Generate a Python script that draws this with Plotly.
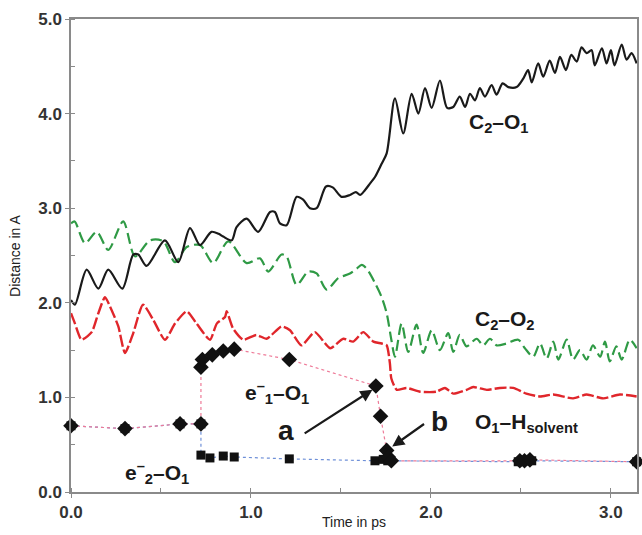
import plotly.graph_objects as go

# ---- data ----
c2o1_t = [0.0, 0.022, 0.087, 0.152, 0.207, 0.285, 0.346, 0.374, 0.42, 0.522, 0.596, 0.661, 0.717,
          0.78, 0.82, 0.846, 0.893, 0.92, 0.976, 1.04, 1.106, 1.133, 1.161, 1.198, 1.254, 1.29,
          1.328, 1.365, 1.417, 1.454, 1.504, 1.55, 1.583, 1.606, 1.633, 1.661, 1.689, 1.726,
          1.754, 1.80, 1.846, 1.893, 1.93, 1.967, 2.004, 2.05, 2.09, 2.124, 2.16, 2.19, 2.217,
          2.245, 2.272, 2.30, 2.337, 2.365, 2.398, 2.43, 2.476, 2.513, 2.54, 2.56, 2.596, 2.624,
          2.66, 2.689, 2.717, 2.75, 2.78, 2.81, 2.837, 2.865, 2.893, 2.91, 2.95, 2.976, 3.0,
          3.02, 3.06, 3.087, 3.115, 3.143]
c2o1_d = [2.03, 1.98, 2.35, 2.15, 2.35, 2.15, 2.51, 2.51, 2.39, 2.66, 2.43, 2.79, 2.61,
          2.75, 2.73, 2.70, 2.66, 2.80, 2.89, 2.75, 2.96, 2.96, 2.84, 2.82, 3.12, 3.09,
          3.00, 3.00, 3.23, 3.22, 3.12, 3.14, 3.17, 3.14, 3.19, 3.26, 3.33, 3.47,
          3.58, 4.16, 3.79, 4.21, 4.00, 4.27, 4.06, 4.35, 4.06, 4.07, 4.18, 4.07, 4.21,
          4.14, 4.27, 4.18, 4.30, 4.20, 4.32, 4.28, 4.28, 4.37, 4.46, 4.33, 4.53, 4.39,
          4.56, 4.43, 4.60, 4.46, 4.62, 4.55, 4.70, 4.64, 4.67, 4.51, 4.69, 4.53, 4.67,
          4.51, 4.73, 4.57, 4.64, 4.53]

c2o2_t = [0.0, 0.02, 0.078, 0.143, 0.207, 0.29, 0.356, 0.439, 0.513, 0.578, 0.643, 0.717, 0.79,
          0.874, 0.976, 1.05, 1.096, 1.17, 1.198, 1.254, 1.318, 1.365, 1.42, 1.485, 1.55, 1.587,
          1.615, 1.643, 1.689, 1.726, 1.754, 1.78, 1.80, 1.837, 1.874, 1.92, 1.957, 2.004, 2.05,
          2.096, 2.124, 2.16, 2.198, 2.254, 2.29, 2.328, 2.365, 2.42, 2.485, 2.522, 2.568, 2.606,
          2.643, 2.68, 2.708, 2.754, 2.79, 2.828, 2.865, 2.90, 2.94, 2.967, 2.994, 3.03, 3.06,
          3.105, 3.143]
c2o2_d = [2.84, 2.86, 2.63, 2.75, 2.56, 2.86, 2.49, 2.66, 2.65, 2.43, 2.59, 2.61, 2.42,
          2.65, 2.42, 2.47, 2.33, 2.51, 2.49, 2.19, 2.33, 2.31, 2.14, 2.26, 2.31, 2.36,
          2.40, 2.36, 2.21, 2.06, 1.89, 1.61, 1.43, 1.78, 1.48, 1.77, 1.47, 1.71, 1.50,
          1.68, 1.48, 1.66, 1.54, 1.62, 1.55, 1.62, 1.55, 1.57, 1.61, 1.52, 1.43, 1.57,
          1.41, 1.59, 1.40, 1.61, 1.40, 1.50, 1.40, 1.55, 1.43, 1.59, 1.38, 1.54, 1.40,
          1.61, 1.52]

o1h_t = [0.0, 0.022, 0.059, 0.115, 0.152, 0.189, 0.217, 0.263, 0.30, 0.346, 0.40, 0.457, 0.522,
         0.578, 0.643, 0.698, 0.772, 0.81, 0.856, 0.865, 0.90, 0.957, 1.03, 1.087, 1.17, 1.217,
         1.28, 1.355, 1.44, 1.513, 1.568, 1.624, 1.68, 1.726, 1.754, 1.772, 1.78, 1.81, 1.865,
         1.94, 2.03, 2.078, 2.124, 2.198, 2.235, 2.31, 2.383, 2.457, 2.53, 2.606, 2.68, 2.79,
         2.865, 2.957, 3.05, 3.143]
o1h_d = [1.89, 1.78, 1.61, 1.69, 1.89, 2.06, 1.96, 1.75, 1.47, 1.68, 1.98, 1.82, 1.61,
         1.78, 1.91, 1.78, 1.61, 1.78, 1.85, 1.91, 1.73, 1.61, 1.66, 1.62, 1.75, 1.71,
         1.55, 1.69, 1.52, 1.62, 1.59, 1.69, 1.59, 1.57, 1.55, 1.36, 1.20, 1.08, 1.10,
         1.06, 1.06, 1.10, 1.04, 1.08, 1.11, 1.08, 1.10, 1.10, 1.04, 1.01, 1.03, 0.99,
         1.03, 0.99, 1.03, 1.01]

e1_t = [0.0, 0.30, 0.606, 0.722, 0.722, 0.73, 0.785, 0.846, 0.907, 1.213, 1.694, 1.72, 1.754,
        1.763, 1.78, 2.494, 2.52, 2.55, 3.143]
e1_d = [0.70, 0.67, 0.72, 0.72, 1.32, 1.40, 1.45, 1.49, 1.51, 1.40, 1.12, 0.80, 0.44,
        0.37, 0.33, 0.33, 0.33, 0.34, 0.32]

e2_t = [0.0, 0.30, 0.606, 0.722, 0.722, 0.772, 0.846, 0.907, 1.213, 1.689, 1.735, 1.76,
        2.485, 2.52, 2.56, 3.143]
e2_d = [0.70, 0.67, 0.72, 0.72, 0.39, 0.36, 0.38, 0.37, 0.35, 0.33, 0.345, 0.33,
        0.32, 0.33, 0.33, 0.32]

x_ticks = [0.0, 1.0, 2.0, 3.0]
x_tick_labels = ["0.0", "1.0", "2.0", "3.0"]
y_ticks = [0.0, 1.0, 2.0, 3.0, 4.0, 5.0]
y_tick_labels = ["0.0", "1.0", "2.0", "3.0", "4.0", "5.0"]

FONT = "Liberation Sans, Arial, sans-serif"

fig = go.Figure()

fig.add_trace(go.Scatter(x=e2_t, y=e2_d, mode="lines+markers", cliponaxis=False,
                         line=dict(color="#6f90d8", width=1.2, dash="dot"),
                         marker=dict(symbol="square", size=9, color="#111111")))
fig.add_trace(go.Scatter(x=e1_t, y=e1_d, mode="lines+markers", cliponaxis=False,
                         line=dict(color="#ee7a98", width=1.2, dash="dot"),
                         marker=dict(symbol="diamond", size=12, color="#111111")))
fig.add_trace(go.Scatter(x=o1h_t, y=o1h_d, mode="lines",
                         line=dict(color="#e0262b", width=2.4, dash="12px,3px", shape="spline", smoothing=0.6)))
fig.add_trace(go.Scatter(x=c2o2_t, y=c2o2_d, mode="lines",
                         line=dict(color="#2f9a45", width=2.2, dash="11px,5px", shape="spline", smoothing=0.8)))
fig.add_trace(go.Scatter(x=c2o1_t, y=c2o1_d, mode="lines",
                         line=dict(color="#1a1a1a", width=2.2, shape="spline", smoothing=0.8)))

lab_font = dict(family=FONT, size=21, color="#1a1a1a", weight="bold")
labels = [
    (2.38, 3.90, "C<sub>2</sub>–O<sub>1</sub>"),
    (2.41, 1.82, "C<sub>2</sub>–O<sub>2</sub>"),
    (2.53, 0.73, "O<sub>1</sub>–H<sub>solvent</sub>"),
    (1.145, 1.05, "e<sup>–</sup><sub>1</sub>–O<sub>1</sub>"),
    (0.48, 0.21, "e<sup>–</sup><sub>2</sub>–O<sub>1</sub>"),
]
for x, y, t in labels:
    fig.add_annotation(x=x, y=y, text=t, showarrow=False, font=lab_font)

big_font = dict(family=FONT, size=28, color="#1a1a1a", weight="bold")
fig.add_annotation(x=1.195, y=0.65, text="a", showarrow=False, font=big_font)
fig.add_annotation(x=2.05, y=0.75, text="b", showarrow=False, font=big_font)
fig.add_annotation(x=1.675, y=1.08, ax=1.29, ay=0.61, xref="x", yref="y", axref="x", ayref="y",
                   text="", showarrow=True, arrowhead=2, arrowsize=1.1, arrowwidth=2.2, arrowcolor="#1a1a1a")
fig.add_annotation(x=1.785, y=0.48, ax=1.97, ay=0.73, xref="x", yref="y", axref="x", ayref="y",
                   text="", showarrow=True, arrowhead=2, arrowsize=1.1, arrowwidth=2.2, arrowcolor="#1a1a1a")

# axis titles
fig.add_annotation(x=0.5, y=-0.043, xref="paper", yref="paper", text="Time in ps", showarrow=False,
                   yanchor="top", font=dict(family=FONT, size=14, color="#222"))
fig.add_annotation(x=-0.1, y=0.5, xref="paper", yref="paper", text="Distance in A", showarrow=False,
                   textangle=-90, xanchor="center", font=dict(family=FONT, size=14, color="#222"))

tick_font = dict(family=FONT, size=17, color="#333333", weight="bold")
axis_common = dict(showline=True, linecolor="#8a8a8a", linewidth=1.5, mirror=True,
                   ticks="outside", ticklen=4, tickcolor="#8a8a8a", showgrid=False, zeroline=False,
                   tickfont=tick_font, automargin=False)
fig.update_xaxes(range=[0, 3.145], tickvals=x_ticks, ticktext=x_tick_labels,
                 minor=dict(dtick=0.5, ticks="inside", ticklen=4, tickcolor="#8a8a8a"),
                 **axis_common)
fig.update_yaxes(range=[0, 5.0], tickvals=y_ticks, ticktext=y_tick_labels,
                 minor=dict(dtick=0.5, ticks="inside", ticklen=4, tickcolor="#8a8a8a"),
                 **axis_common)

fig.update_layout(width=642, height=535, margin=dict(l=71, r=5, t=19, b=43),
                  plot_bgcolor="white", paper_bgcolor="white", showlegend=False)

fig.write_html("out.html", config={"displayModeBar": False},
               post_script="document.body.style.margin='0';document.body.style.overflow='hidden';")
